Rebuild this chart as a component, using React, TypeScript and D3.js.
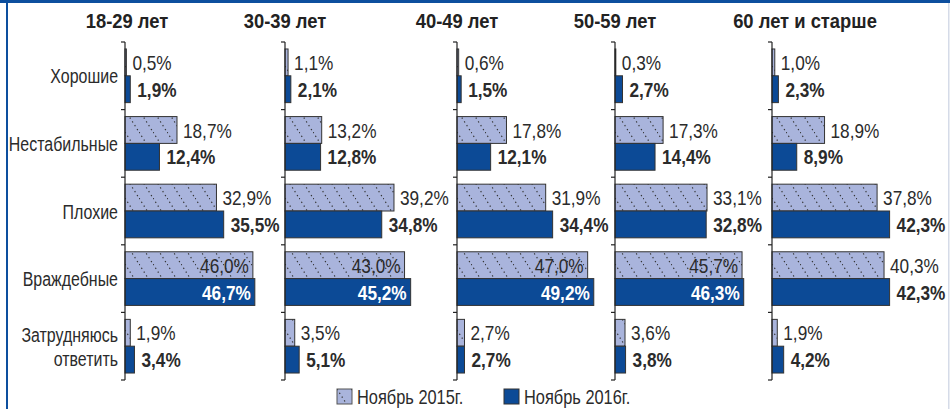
import { scaleBand, scaleLinear } from "d3";

const groups = ["18-29 лет", "30-39 лет", "40-49 лет", "50-59 лет", "60 лет и старше"];
const categories = ["Хорошие", "Нестабильные", "Плохие", "Враждебные", "Затрудняюсь ответить"];
const seriesNames = ["Ноябрь 2015г.", "Ноябрь 2016г."];

// values per age group, in category order
const nov2015 = [
  [0.5, 18.7, 32.9, 46.0, 1.9],
  [1.1, 13.2, 39.2, 43.0, 3.5],
  [0.6, 17.8, 31.9, 47.0, 2.7],
  [0.3, 17.3, 33.1, 45.7, 3.6],
  [1.0, 18.9, 37.8, 40.3, 1.9],
];
const nov2016 = [
  [1.9, 12.4, 35.5, 46.7, 3.4],
  [2.1, 12.8, 34.8, 45.2, 5.1],
  [1.5, 12.1, 34.4, 49.2, 2.7],
  [2.7, 14.4, 32.8, 46.3, 3.8],
  [2.3, 8.9, 42.3, 42.3, 4.2],
];

const W = 950;
const H = 409;
const panelX = [125, 285, 457, 615, 772];
const titleShift = [2, 0, 0, 0, 33];
const FONT = "'Liberation Sans', Arial, sans-serif";
const DARK = "#0c4a96";
const LIGHT = "#a9b4dc";
const TEXT = "#2b2b2b";

const fmt = (v: number) => v.toFixed(1).replace(".", ",") + "%";

// horizontally squeezed text (condensed look)
function T({ x, y, children, anchor = "start", size = 21, bold = false, fill = TEXT, sx = 0.82 }: any) {
  return (
    <text
      transform={`translate(${x},${y}) scale(${sx},1)`}
      textAnchor={anchor}
      fontSize={size}
      fontWeight={bold ? "bold" : "normal"}
      fill={fill}
      dy="0.36em"
    >
      {children}
    </text>
  );
}

export default function App() {
  const y = scaleBand<string>().domain(categories).range([42, 380]);
  const sub = scaleBand<string>()
    .domain(seriesNames)
    .range([0, y.bandwidth()])
    .paddingOuter(0.26);
  const x = scaleLinear().domain([0, 50]).range([0, 139]);
  const bh = sub.bandwidth();

  return (
    <div style={{ position: "fixed", left: 0, top: 0 }}>
      <svg width={W} height={H} style={{ display: "block", background: "#fff" }} fontFamily={FONT}>
        <defs>
          <pattern id="hatch" patternUnits="userSpaceOnUse" width={14} height={22}>
            <rect width={14} height={22} fill={LIGHT} />
            <line x1={0} y1={0} x2={14} y2={22} stroke="#333" strokeWidth={1.2} strokeDasharray="1.3 3.2" />
          </pattern>
        </defs>
        <rect x={0} y={0} width={W} height={3} fill="#0d4f9e" />
        <rect x={6} y={0} width={2} height={H} fill="#0d4f9e" />
        <rect x={948} y={3} width={1.5} height={H} fill="#d5dbe8" />

        {categories.map((c) => {
          const cy = (y(c) as number) + y.bandwidth() / 2;
          if (c === "Затрудняюсь ответить") {
            return (
              <g key={c}>
                <T x={118} y={cy - 12} anchor="end" sx={0.76}>Затрудняюсь</T>
                <T x={118} y={cy + 12} anchor="end" sx={0.76}>ответить</T>
              </g>
            );
          }
          return <T key={c} x={118} y={cy} anchor="end" sx={0.76}>{c}</T>;
        })}

        {groups.map((g, gi) => {
          const ox = panelX[gi];
          return (
            <g key={g} transform={`translate(${ox},0)`}>
              <T x={titleShift[gi]} y={21} anchor="middle" size={20} bold fill="#222" sx={0.92}>
                {g}
              </T>
              {categories.map((c, ci) => {
                const by = y(c) as number;
                return [nov2015[gi][ci], nov2016[gi][ci]].map((v, si) => {
                  const s = seriesNames[si];
                  const top = by + (sub(s) as number);
                  const wBar = x(v);
                  const inside = v > 42.5;
                  return (
                    <g key={c + s}>
                      <rect
                        x={0}
                        y={top}
                        width={wBar}
                        height={bh}
                        fill={si === 0 ? "url(#hatch)" : DARK}
                        stroke="#333"
                        strokeWidth={1}
                      />
                      <T
                        x={inside ? wBar - 4 : wBar + (si === 0 ? 6 : 7)}
                        y={top + bh / 2}
                        anchor={inside ? "end" : "start"}
                        bold={si === 1}
                        fill={inside && si === 1 ? "#fff" : TEXT}
                      >
                        {fmt(v)}
                      </T>
                    </g>
                  );
                });
              })}
              <line x1={0} x2={0} y1={42} y2={380} stroke="#222" strokeWidth={1.2} />
              {[...categories.map((c) => y(c) as number), 380].map((t, i) => (
                <line key={i} x1={-4} x2={0} y1={t} y2={t} stroke="#222" strokeWidth={1.2} />
              ))}
            </g>
          );
        })}

        <g transform="translate(337,389)">
          <rect x={0} y={0} width={15} height={15} fill="url(#hatch)" stroke="#555" />
          <T x={20} y={8} size={20}>{seriesNames[0]}</T>
          <rect x={167} y={0} width={15} height={15} fill={DARK} stroke="#333" />
          <T x={187} y={8} size={20}>{seriesNames[1]}</T>
        </g>
      </svg>
    </div>
  );
}
